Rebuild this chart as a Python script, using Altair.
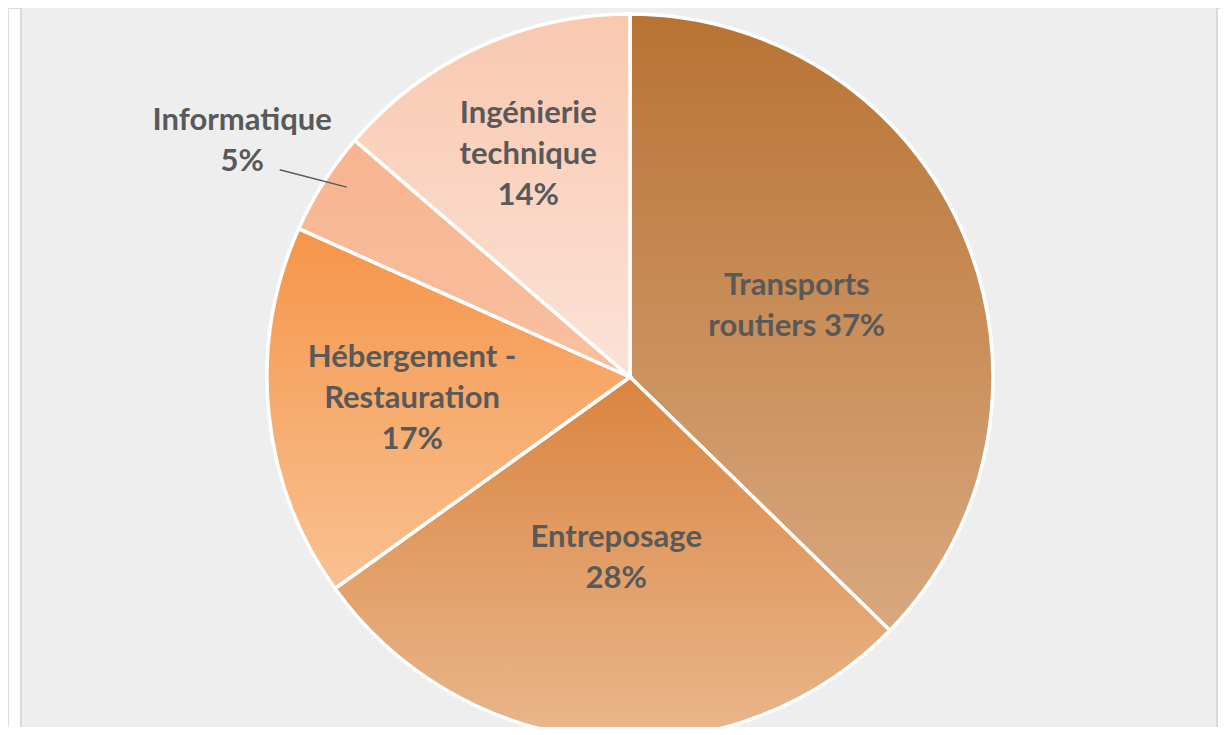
import math
import altair as alt
import pandas as pd

# ---- data ----
categories = ["Transports routiers", "Entreposage", "Hébergement - Restauration",
              "Informatique", "Ingénierie technique"]
values = [37.3, 27.8, 16.6, 4.6, 13.7]
labels = ["Transports\nroutiers 37%", "Entreposage\n28%",
          "Hébergement -\nRestauration\n17%", "Informatique\n5%",
          "Ingénierie\ntechnique\n14%"]

df = pd.DataFrame({"cat": categories, "value": values, "label": labels,
                   "order": list(range(len(categories)))})

# ---- styles ----
grad_colors = {
    "Transports routiers": ("#b87333", "#d9a87f"),
    "Entreposage": ("#da8440", "#e9b78c"),
    "Hébergement - Restauration": ("#f5954a", "#f9c191"),
    "Informatique": ("#f7b48f", "#f9c0a0"),
    "Ingénierie technique": ("#f9c8b0", "#fbe2d6"),
}
label_radius = {
    "Transports routiers": 181,
    "Entreposage": 182,
    "Hébergement - Restauration": 219,
    "Informatique": 454,
    "Ingénierie technique": 244,
}
CX, CY, R = 622, 369, 363
W, H = 1212, 719
TEXT = "#595959"
LH = 41

theta_scale = alt.Scale(domain=[0, 1], range=[0, 2 * math.pi])

base = (
    alt.Chart(df)
    .transform_window(cum="sum(value)", sort=[alt.SortField("order")])
    .transform_joinaggregate(total="sum(value)")
    .transform_calculate(
        start="(datum.cum - datum.value) / datum.total",
        end="datum.cum / datum.total",
        mid="(datum.cum - datum.value / 2) / datum.total",
    )
)

frame = alt.Chart(pd.DataFrame({"a": [0]})).mark_rect(
    fill="#eeeeee", stroke="#d9d9d9", strokeWidth=2
).encode(x=alt.value(13), x2=alt.value(1209), y=alt.value(-1), y2=alt.value(760))

layers = [frame]
for cat in categories:
    c0, c1 = grad_colors[cat]
    grad = alt.LinearGradient(
        gradient="linear",
        stops=[alt.GradientStop(color=c0, offset=0), alt.GradientStop(color=c1, offset=1)],
        x1=0, x2=0, y1=0, y2=1,
    )
    arc = base.transform_filter(alt.datum.cat == cat).mark_arc(
        outerRadius=R, fill=grad, stroke="white", strokeWidth=3.5
    ).encode(
        theta=alt.Theta("start:Q", scale=theta_scale),
        theta2="end:Q",
        x=alt.value(CX), y=alt.value(CY),
    )
    layers.append(arc)

for cat, lab in zip(categories, labels):
    sub = base.transform_filter(alt.datum.cat == cat)
    if cat == "Informatique":
        sub = sub.transform_calculate(lab="datum.mid - 0.003")
        th = "lab:Q"
    else:
        th = "mid:Q"
    nlines = lab.count("\n") + 1
    txt = sub.mark_text(
        font="Lato", fontWeight="bold", fontSize=31, color=TEXT,
        lineBreak="\n", lineHeight=LH, align="center", baseline="middle",
        radius=label_radius[cat], dy=-(nlines - 1) * LH / 2,
    ).encode(
        theta=alt.Theta(th, scale=theta_scale),
        text="label:N",
        x=alt.value(CX), y=alt.value(CY),
    )
    layers.append(txt)

# leader line for the small slice
leader = (
    base.transform_filter(alt.datum.cat == "Informatique")
    .transform_calculate(
        a1="2 * PI * (datum.mid + 0.004)",
        a2="2 * PI * (datum.mid - 0.005)",
    )
    .transform_calculate(
        lx1=f"{CX} + 341 * sin(datum.a1)",
        ly1=f"{CY} - 341 * cos(datum.a1)",
        lx2=f"{CX} + 407 * sin(datum.a2)",
        ly2=f"{CY} - 407 * cos(datum.a2)",
    )
    .mark_rule(color="#595959", strokeWidth=1.5)
    .encode(
        x=alt.X("lx1:Q", scale=None), y=alt.Y("ly1:Q", scale=None),
        x2="lx2:Q", y2="ly2:Q",
    )
)
layers.append(leader)

chart = (
    alt.layer(*layers)
    .properties(width=W, height=H, autosize=alt.AutoSizeParams(type="none"), padding=0)
    .configure_view(stroke=None)
    .configure(background="white")
)

chart.save("out.html", embed_options={"renderer": "svg", "actions": False})
